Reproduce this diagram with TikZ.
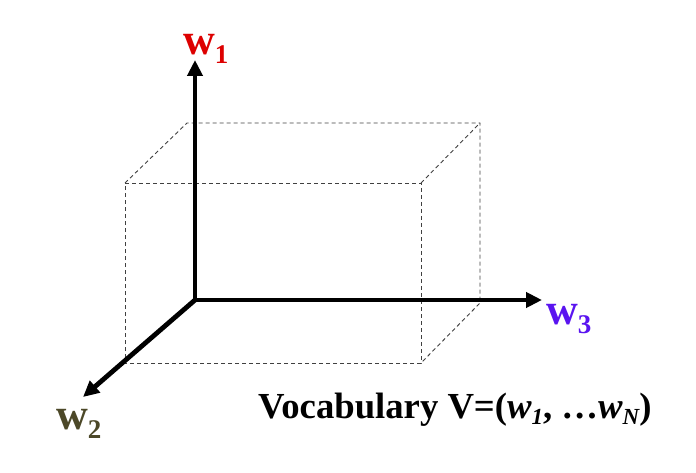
\documentclass[tikz,border=0pt]{standalone}
\usepackage{fontspec}
\setmainfont{Liberation Serif}
\usetikzlibrary{arrows.meta}
\definecolor{wred}{RGB}{221,0,0}
\definecolor{wolive}{RGB}{76,72,40}
\definecolor{wblue}{RGB}{90,20,240}
\begin{document}
\begin{tikzpicture}[x=1pt,y=-1pt,
  axis/.style={line width=4.8pt,-{Triangle[length=16pt,width=15pt]}},
  hidden/.style={draw=black!75,line width=0.9pt,dash pattern=on 4pt off 3pt},
  wlab/.style={inner sep=0pt,anchor=base west}]
\useasboundingbox (0,0) rectangle (696,473);
% coordinates
\coordinate (O) at (195,300);
\coordinate (Y) at (195,60);
\coordinate (X) at (542,300);
\coordinate (Z) at (83,397);
\coordinate (F1) at (125,183);
\coordinate (F2) at (421,183);
\coordinate (F3) at (421,363);
\coordinate (F4) at (125,363);
\coordinate (B1) at (187,123);
\coordinate (B2) at (480,123);
\coordinate (B3) at (480,303);
% box
\draw[hidden] (F1) -- (F2) -- (F3) -- (F4) -- cycle;
\draw[hidden] (F1) -- (B1) -- (B2) -- (B3) -- (F3);
\draw[hidden] (F2) -- (B2);
% axes
\draw[axis] (O) -- (Y);
\draw[axis] (O) -- (X);
\draw[axis] (O) -- (Z);
% labels
\node[wlab,text=wred] (l1) at (183,55) {\fontsize{44}{44}\selectfont\bfseries w\raisebox{-9pt}{\fontsize{27}{27}\selectfont 1}};
\node[wlab,text=wolive] (l2) at (56,429) {\fontsize{44}{44}\selectfont\bfseries w\raisebox{-9pt}{\fontsize{27}{27}\selectfont 2}};
\node[wlab,text=wblue] (l3) at (546,324) {\fontsize{44}{44}\selectfont\bfseries w\raisebox{-9pt}{\fontsize{27}{27}\selectfont 3}};
\node[wlab] (voc) at (258,418) {\fontsize{36.7}{36.7}\selectfont\bfseries Vocabulary V=(\textit{w\raisebox{-6pt}{\fontsize{23}{23}\selectfont 1}}, \ldots\textit{w\raisebox{-6pt}{\fontsize{23}{23}\selectfont N}})};
\end{tikzpicture}
\end{document}
